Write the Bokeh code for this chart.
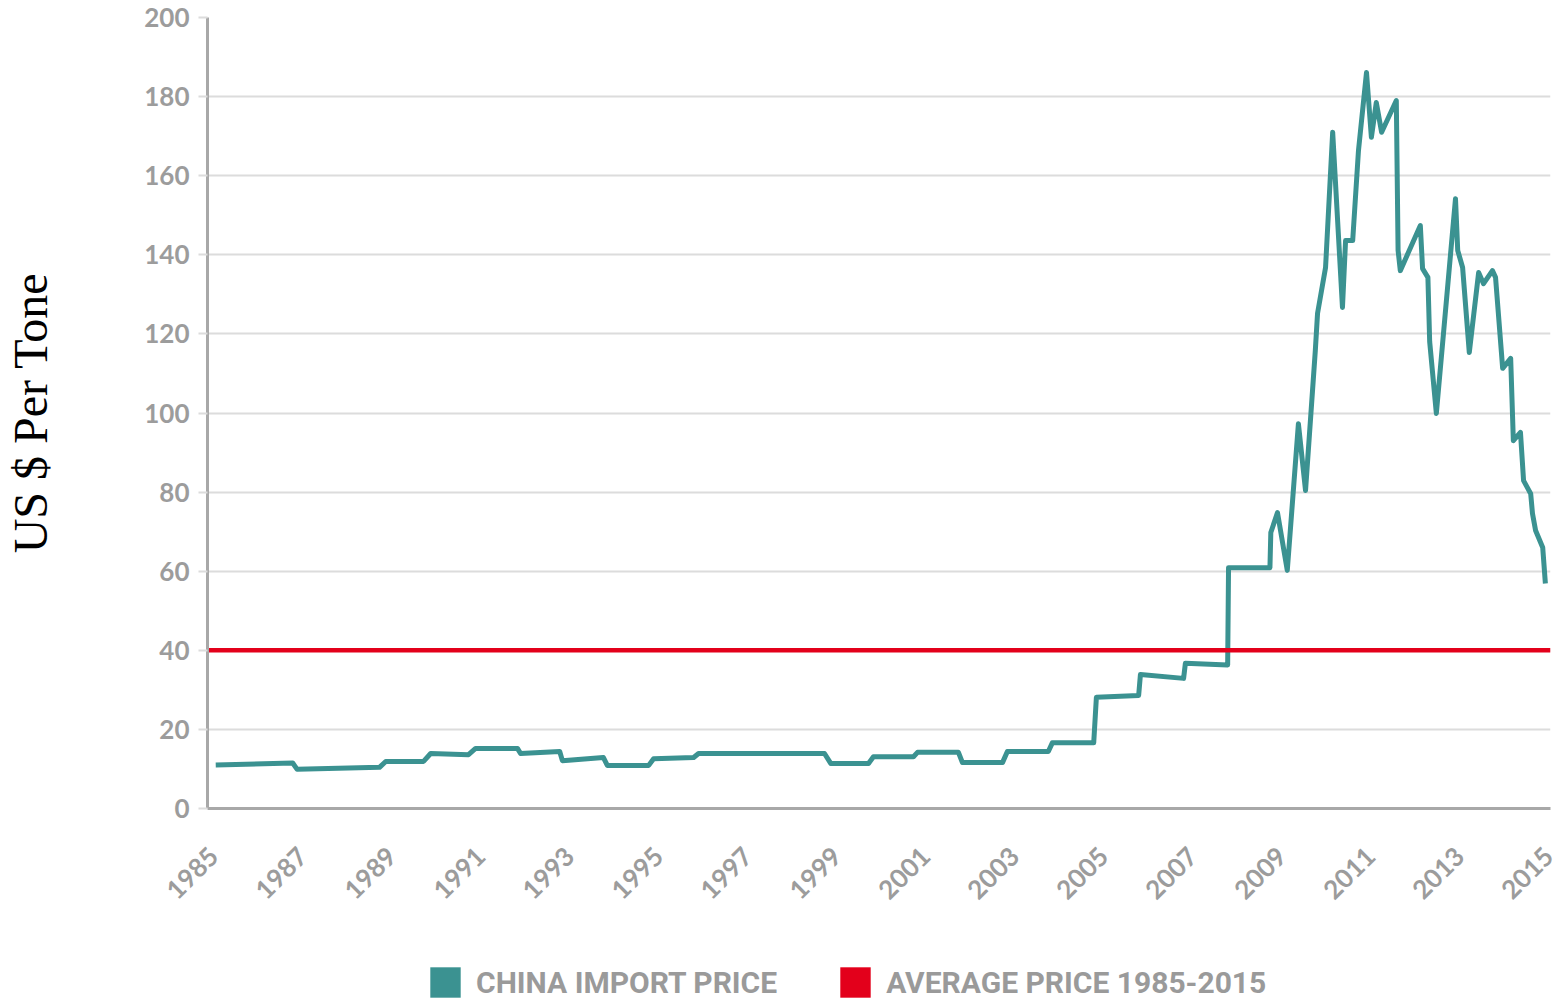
import math
from bokeh.plotting import figure
from bokeh.layouts import column
from bokeh.models import FixedTicker, Legend, LegendItem, Range1d
from bokeh.embed import file_html
from bokeh.resources import INLINE

# ---------------- data ----------------
years = [1985.05, 1986.78, 1986.88, 1988.73, 1988.87, 1989.72, 1989.88, 1990.73, 1990.89,
         1991.83, 1991.9, 1992.78, 1992.84, 1993.76, 1993.85, 1994.78, 1994.89, 1995.79,
         1995.9, 1998.73, 1998.87, 1999.72, 1999.83, 2000.73, 2000.82, 2001.74, 2001.83,
         2002.73, 2002.84, 2003.76, 2003.85, 2004.78, 2004.84, 2005.79, 2005.83, 2006.8,
         2006.84, 2007.79, 2007.81, 2008.74, 2008.76, 2008.91, 2009.13, 2009.38, 2009.54,
         2009.76, 2009.81, 2009.99, 2010.15, 2010.37, 2010.44, 2010.6, 2010.73, 2010.91,
         2011.02, 2011.13, 2011.25, 2011.58, 2011.62, 2011.67, 2012.12, 2012.17, 2012.29,
         2012.33, 2012.48, 2012.91, 2012.96, 2013.07, 2013.22, 2013.43, 2013.54, 2013.74,
         2013.81, 2013.97, 2014.15, 2014.21, 2014.37, 2014.44, 2014.6, 2014.64, 2014.71,
         2014.87, 2014.93]
prices = [11.0, 11.5, 9.9, 10.4, 11.9, 11.9, 13.9, 13.6, 15.2,
          15.2, 13.9, 14.4, 12.1, 12.9, 10.9, 10.9, 12.6, 12.9,
          13.9, 13.9, 11.4, 11.4, 13.1, 13.1, 14.2, 14.2, 11.6,
          11.6, 14.4, 14.4, 16.6, 16.6, 28.1, 28.6, 33.9, 32.9,
          36.7, 36.3, 60.9, 60.9, 69.8, 74.8, 60.2, 97.3, 80.4,
          115.8, 125.2, 136.8, 171.0, 126.7, 143.6, 143.6, 166.4, 186.1,
          169.7, 178.5, 171.0, 179.0, 141.1, 136.0, 147.4, 136.5, 134.3,
          118.0, 99.9, 154.2, 141.1, 136.8, 115.3, 135.5, 132.7, 136.0,
          134.3, 111.3, 113.8, 93.0, 95.1, 82.9, 79.6, 74.6, 70.3,
          66.0, 56.9]
average_price = 40
year_ticks = list(range(1985, 2016, 2))
price_ticks = list(range(0, 201, 20))
series_labels = ["CHINA IMPORT PRICE", "AVERAGE PRICE 1985-2015"]
y_title = "US $ Per Tone"

X_START, X_END = 1984.865, 2015.045

TEAL = "#3b9291"
RED = "#e3001b"
GRID = "#dcdcdc"
AXIS = "#a8a8a8"
TICKTXT = "#9c9c9c"

p = figure(width=1559, height=930,
           x_range=Range1d(X_START, X_END), y_range=Range1d(0, 200),
           output_backend="svg", toolbar_location=None,
           min_border_left=207, min_border_right=9,
           min_border_top=17, min_border_bottom=122)
p.outline_line_color = None
p.background_fill_color = "white"

# grid
p.xgrid.grid_line_color = None
p.ygrid.grid_line_color = GRID
p.ygrid.grid_line_width = 2
p.ygrid.ticker = FixedTicker(ticks=price_ticks)

# x axis
xa = p.xaxis[0]
xa.ticker = FixedTicker(ticks=year_ticks)
xa.major_label_orientation = math.pi / 4
xa.major_tick_line_color = None
xa.major_tick_out = 0
xa.major_tick_in = 0
xa.minor_tick_line_color = None
xa.axis_line_color = AXIS
xa.axis_line_width = 3
xa.major_label_standoff = 43
xa.major_label_text_font = "Lato"
xa.major_label_text_font_style = "bold"
xa.major_label_text_font_size = "26px"
xa.major_label_text_color = TICKTXT

# y axis
ya = p.yaxis[0]
ya.ticker = FixedTicker(ticks=price_ticks)
ya.axis_line_color = AXIS
ya.axis_line_width = 3
ya.major_tick_in = 0
ya.major_tick_out = 9
ya.major_tick_line_color = GRID
ya.major_tick_line_width = 2
ya.minor_tick_line_color = None
ya.major_label_standoff = 9
ya.major_label_text_font = "Lato"
ya.major_label_text_font_style = "bold"
ya.major_label_text_font_size = "26px"
ya.major_label_text_color = TICKTXT
ya.axis_label = y_title
ya.axis_label_text_font = "Liberation Serif"
ya.axis_label_text_font_style = "normal"
ya.axis_label_text_font_size = "48px"
ya.axis_label_text_color = "black"
ya.axis_label_standoff = 84

# lines
p.line(years, prices, line_color=TEAL, line_width=5, line_join="round")
p.line([X_START, X_END], [average_price, average_price], line_color=RED, line_width=4.5)

# ---------------- legend strip ----------------
lg = figure(width=1559, height=71, output_backend="svg", toolbar_location=None,
            x_range=Range1d(X_START, X_END), y_range=Range1d(0, 200),
            x_axis_type=None, y_axis_type=None,
            min_border_left=207, min_border_right=9, min_border_top=0, min_border_bottom=0)
lg.outline_line_color = None
lg.xgrid.grid_line_color = None
lg.ygrid.grid_line_color = None

# hidden swatch renderers (only their legend glyphs are shown)
q1 = lg.quad(left=[X_START], right=[X_END], bottom=[0], top=[average_price],
             fill_color=TEAL, line_color=None, visible=False)
q2 = lg.quad(left=[X_START], right=[X_END], bottom=[0], top=[average_price],
             fill_color=RED, line_color=None, visible=False)

legend = Legend(items=[LegendItem(label=series_labels[0], renderers=[q1]),
                       LegendItem(label=series_labels[1], renderers=[q2])],
                location=(219, 0), orientation="horizontal",
                glyph_width=38, glyph_height=38, label_standoff=12, spacing=59,
                padding=0, margin=0, border_line_color=None,
                background_fill_alpha=0, inactive_fill_alpha=0,
                label_text_font="Roboto",
                label_text_font_style="bold",
                label_text_font_size="30px",
                label_text_color="#9a9a9a")
lg.add_layout(legend)

layout = column(p, lg, spacing=0)
open("out.html", "w").write(file_html(layout, INLINE))
